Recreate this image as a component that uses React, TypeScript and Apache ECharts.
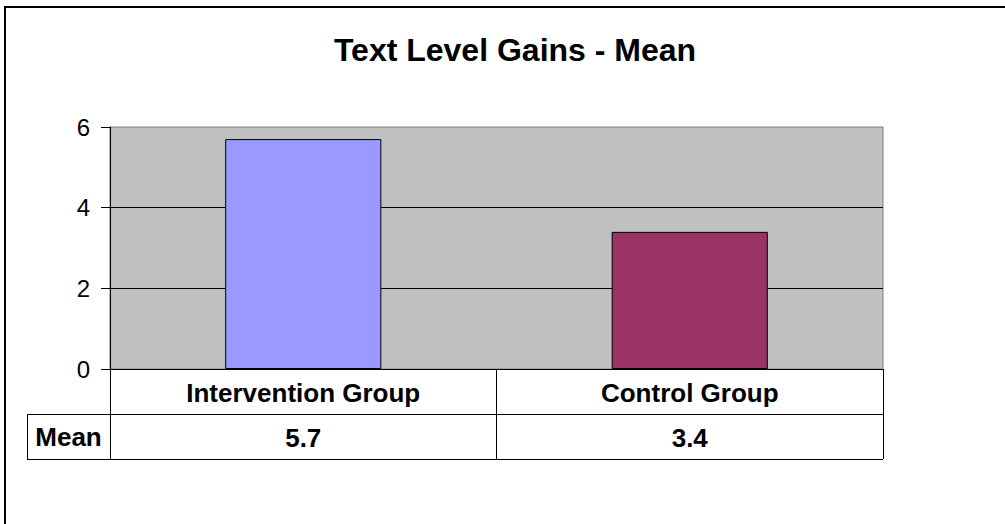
import React, { useEffect, useRef } from "react";
import * as echarts from "echarts";

// Chart content
const chartTitle = "Text Level Gains - Mean";
const categories = ["Intervention Group", "Control Group"];
const meanValues = [5.7, 3.4];
const barColors = ["#9999FF", "#993366"];
const tableRowLabel = "Mean";
const yMin = 0;
const yMax = 6;
const yInterval = 2;

const FONT = "'Liberation Sans', Arial, sans-serif";

export default function App() {
  const ref = useRef<HTMLDivElement>(null);

  useEffect(() => {
    if (!ref.current) return;
    const chart = echarts.init(ref.current, undefined, { renderer: "svg" });

    const gridLeft = 110;
    const gridTop = 127;
    const gridRight = 883;
    const gridBottom = 369;
    const rowH = 45;
    const tableBottom = gridBottom + rowH * 2;
    const labelCellLeft = 27;

    chart.setOption({
      animation: false,
      backgroundColor: "#ffffff",
      title: {
        text: chartTitle,
        left: 510,
        top: 29,
        textAlign: "center",
        textStyle: {
          fontFamily: FONT,
          fontSize: 32,
          fontWeight: "bold",
          color: "#000",
        },
      },
      grid: {
        left: gridLeft,
        top: gridTop,
        right: 1005 - gridRight,
        bottom: 524 - gridBottom,
        show: true,
        backgroundColor: "#C0C0C0",
        borderColor: "#808080",
        borderWidth: 1,
      },
      xAxis: {
        type: "category",
        data: categories,
        axisLine: { show: true, lineStyle: { color: "#000", width: 1 } },
        axisTick: {
          show: true,
          interval: 0,
          length: rowH * 2,
          lineStyle: { color: "#000", width: 1 },
        },
        axisLabel: {
          interval: 0,
          margin: 1,
          fontFamily: FONT,
          color: "#000",
          formatter: (value: string, index: number) =>
            `{cat|${value}}\n{val|${meanValues[index].toFixed(1)}}`,
          rich: {
            cat: {
              fontFamily: FONT,
              fontSize: 26,
              fontWeight: "bold",
              lineHeight: rowH,
              color: "#000",
            },
            val: {
              fontFamily: FONT,
              fontSize: 26,
              fontWeight: "bold",
              lineHeight: rowH,
              color: "#000",
            },
          },
        },
        splitLine: { show: false },
      },
      yAxis: {
        type: "value",
        min: yMin,
        max: yMax,
        interval: yInterval,
        axisLine: { show: true, lineStyle: { color: "#000", width: 1 } },
        axisTick: { show: true, length: 9, lineStyle: { color: "#000" } },
        axisLabel: {
          margin: 20,
          fontFamily: FONT,
          fontSize: 24,
          color: "#000",
        },
        splitLine: {
          show: true,
          showMinLine: false,
          showMaxLine: false,
          lineStyle: { color: "#000", width: 1 },
        },
      },
      series: [
        {
          type: "bar",
          barWidth: "40.4%",
          data: meanValues.map((v, i) => ({
            value: v,
            itemStyle: {
              color: barColors[i],
              borderColor: "#000",
              borderWidth: 1,
            },
          })),
        },
      ],
      graphic: [
        {
          type: "rect",
          silent: true,
          shape: { x: 5, y: 7, width: 1200, height: 800 },
          style: { fill: "none", stroke: "#000", lineWidth: 2 },
        },
        {
          type: "line",
          silent: true,
          shape: { x1: labelCellLeft, y1: gridBottom + rowH + 0.5, x2: gridRight, y2: gridBottom + rowH + 0.5 },
          style: { stroke: "#000", lineWidth: 1 },
        },
        {
          type: "line",
          silent: true,
          shape: { x1: labelCellLeft, y1: tableBottom + 0.5, x2: gridRight, y2: tableBottom + 0.5 },
          style: { stroke: "#000", lineWidth: 1 },
        },
        {
          type: "line",
          silent: true,
          shape: { x1: labelCellLeft + 0.5, y1: gridBottom + rowH, x2: labelCellLeft + 0.5, y2: tableBottom + 1 },
          style: { stroke: "#000", lineWidth: 1 },
        },
        {
          type: "text",
          silent: true,
          style: {
            text: tableRowLabel,
            x: (labelCellLeft + gridLeft) / 2,
            y: gridBottom + rowH * 1.5,
            align: "center",
            verticalAlign: "middle",
            fontFamily: FONT,
            fontSize: 26,
            fontWeight: "bold",
            fill: "#000",
          },
        },
      ],
    });

    return () => chart.dispose();
  }, []);

  return (
    <div
      ref={ref}
      style={{ position: "absolute", left: 0, top: 0, width: 1005, height: 524, background: "#fff" }}
    />
  );
}
